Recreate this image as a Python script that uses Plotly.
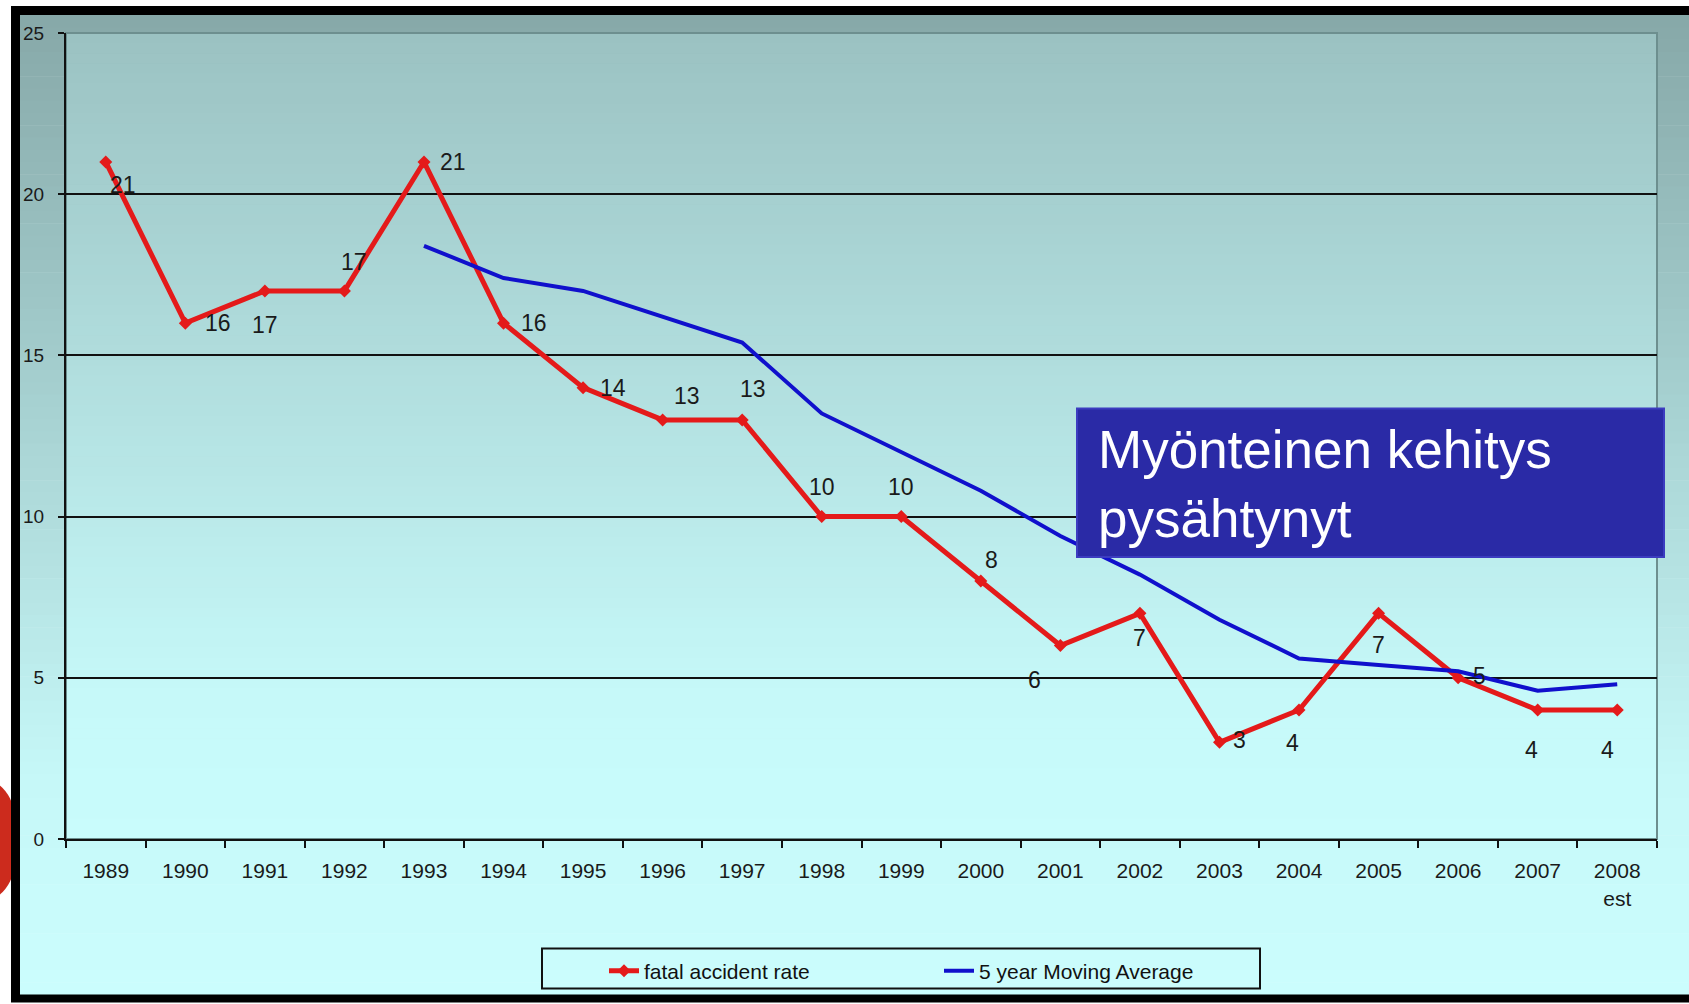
import plotly.graph_objects as go

# ---- data ----
years = ["1989", "1990", "1991", "1992", "1993", "1994", "1995", "1996", "1997", "1998",
         "1999", "2000", "2001", "2002", "2003", "2004", "2005", "2006", "2007", "2008<br>est"]
fatal_rate = [21, 16, 17, 17, 21, 16, 14, 13, 13, 10, 10, 8, 6, 7, 3, 4, 7, 5, 4, 4]
ma_years = ["1993", "1994", "1995", "1996", "1997", "1998", "1999", "2000", "2001", "2002",
            "2003", "2004", "2005", "2006", "2007", "2008<br>est"]
moving_avg = [18.4, 17.4, 17.0, 16.2, 15.4, 13.2, 12.0, 10.8, 9.4, 8.2, 6.8, 5.6, 5.4, 5.2, 4.6, 4.8]
y_ticks = [0, 5, 10, 15, 20, 25]
series_names = ["fatal accident rate", "5 year Moving Average"]
box_text = "Myönteinen kehitys<br>pysähtynyt"

# ---- label offsets (style, px) ----
label_shift = [(17, -23), (33, 0), (0, -34), (10, 29), (29, 0), (30, 0), (30, 0), (24, 24),
               (11, 31), (0, 30), (0, 30), (11, 21), (-26, -34), (0, -25), (20, 2), (-7, -33),
               (0, -32), (21, 2), (-6, -40), (-10, -40)]

W, H = 1689, 1004
L, R, T, B = 66, 1657, 33, 842


def px(x):
    return (x - L) / (R - L)


def py(y):
    return (B - y) / (B - T)


def lerp(c1, c2, t):
    a = [int(c1[i:i + 2], 16) for i in (1, 3, 5)]
    b = [int(c2[i:i + 2], 16) for i in (1, 3, 5)]
    return "#%02x%02x%02x" % tuple(round(a[k] + (b[k] - a[k]) * t) for k in range(3))


def grad_color(y, stops):
    for (y0, c0), (y1, c1) in zip(stops, stops[1:]):
        if y0 <= y <= y1:
            return lerp(c0, c1, (y - y0) / (y1 - y0) if y1 > y0 else 0)
    return stops[-1][1]


shapes = []
# outer gradient background
outer_stops = [(15, "#86a8a8"), (780, "#c6f8f8"), (1000, "#cbfdfd")]
n = 80
for i in range(n):
    y0 = 15 + (998 - 15) * i / n
    y1 = 15 + (998 - 15) * (i + 1) / n + 0.6
    shapes.append(dict(type="rect", xref="paper", yref="paper", layer="below",
                       x0=px(20), x1=px(W + 5), y0=py(y1), y1=py(y0),
                       fillcolor=grad_color((y0 + y1) / 2, outer_stops), line_width=0))
# plot area gradient
plot_stops = [(33, "#9bc2c2"), (700, "#c6f9f9"), (842, "#c9fcfc")]
for i in range(n):
    y0 = T + (B - T) * i / n
    y1 = T + (B - T) * (i + 1) / n + 0.6
    shapes.append(dict(type="rect", xref="paper", yref="paper", layer="below",
                       x0=0, x1=1, y0=py(min(y1, B)), y1=py(y0),
                       fillcolor=grad_color((y0 + y1) / 2, plot_stops), line_width=0))
# plot area grey border
shapes.append(dict(type="rect", xref="paper", yref="paper", layer="below",
                   x0=0, x1=1, y0=0, y1=1, line=dict(color="#6d8f8f", width=2)))
# red decoration at left
shapes.append(dict(type="circle", xref="paper", yref="paper", layer="above",
                   x0=px(-42), x1=px(19), y0=py(902), y1=py(784), fillcolor="#cc2b1d", line_width=0))
# black frame
shapes.append(dict(type="rect", xref="paper", yref="paper", layer="above",
                   x0=px(11), x1=px(20), y0=py(1004), y1=py(6), fillcolor="#000000", line_width=0))
shapes.append(dict(type="rect", xref="paper", yref="paper", layer="above",
                   x0=px(11), x1=px(W + 5), y0=py(15), y1=py(6), fillcolor="#000000", line_width=0))
shapes.append(dict(type="rect", xref="paper", yref="paper", layer="above",
                   x0=px(11), x1=px(W + 5), y0=py(1006), y1=py(998), fillcolor="#000000", line_width=0))
# legend border
shapes.append(dict(type="rect", xref="paper", yref="paper", layer="above",
                   x0=px(542), x1=px(1260), y0=py(992), y1=py(952),
                   line=dict(color="#111111", width=2)))
# blue text box
shapes.append(dict(type="rect", xref="paper", yref="paper", layer="above",
                   x0=px(1077), x1=px(1664), y0=py(559), y1=py(410),
                   fillcolor="#2a2aa6", line=dict(color="#3c3cc0", width=2)))

fig = go.Figure()
fig.add_trace(go.Scatter(
    x=years, y=fatal_rate, name=series_names[0], mode="lines+markers",
    line=dict(color="#e41a1a", width=5),
    marker=dict(symbol="diamond", size=10, color="#e41a1a"),
))
fig.add_trace(go.Scatter(
    x=ma_years, y=moving_avg, name=series_names[1], mode="lines",
    line=dict(color="#1010cc", width=4),
))

annotations = []
for i, (v, (dx, dy)) in enumerate(zip(fatal_rate, label_shift)):
    annotations.append(dict(x=i, y=v, xref="x", yref="y", text=str(v), showarrow=False,
                            xshift=dx, yshift=dy,
                            font=dict(family="Liberation Sans, Arial", size=23, color="#1a1a1a")))
annotations.append(dict(xref="paper", yref="paper", x=px(1096), y=py(486), xanchor="left",
                        yanchor="middle", align="left", text=box_text, showarrow=False,
                        font=dict(family="Liberation Sans, Arial", size=53, color="#ffffff")))

fig.update_layout(
    width=W, height=H,
    margin=dict(l=L, r=W - R, t=T, b=H - B, pad=0),
    paper_bgcolor="#ffffff",
    plot_bgcolor="rgba(0,0,0,0)",
    shapes=shapes,
    annotations=annotations,
    showlegend=True,
    legend=dict(orientation="h", x=px(604), xanchor="left", y=py(954), yanchor="top",
                bgcolor="rgba(0,0,0,0)", borderwidth=0, entrywidth=290,
                font=dict(family="Liberation Sans, Arial", size=21, color="#111111")),
    font=dict(family="Liberation Sans, Arial", color="#1a1a1a"),
)
fig.update_xaxes(
    type="category", categoryorder="array", categoryarray=years,
    showgrid=False, showline=True, linecolor="#111111", linewidth=2,
    ticks="outside", tickson="boundaries", ticklen=7, tickwidth=2, tickcolor="#111111",
    tickfont=dict(size=21, color="#1a1a1a"), ticklabelstandoff=12,
    range=[-0.5, len(years) - 0.5], fixedrange=True,
)
fig.update_yaxes(
    range=[0, 25], tickvals=y_ticks, showgrid=True, gridcolor="#111111", gridwidth=2,
    showline=True, linecolor="#111111", linewidth=2, zeroline=False,
    ticks="outside", ticklen=6, tickwidth=2, tickcolor="#111111",
    tickfont=dict(size=19, color="#1a1a1a"), ticklabelstandoff=10,
)

fig.write_html("out.html", config={"displayModeBar": False},
               post_script="document.body.style.margin='0px';")
